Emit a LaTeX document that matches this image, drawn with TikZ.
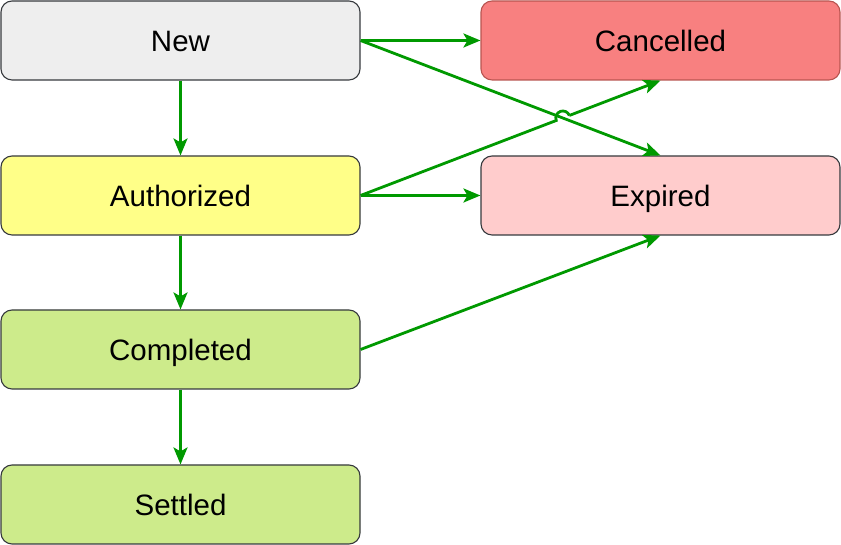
\documentclass[tikz,border=0pt]{standalone}
\usepackage{fontspec}
\setmainfont{Liberation Sans}
\usetikzlibrary{arrows.meta,calc}
\definecolor{edgegreen}{HTML}{009900}
\definecolor{bordergray}{HTML}{36393D}
\definecolor{newfill}{HTML}{EEEEEE}
\definecolor{cancelfill}{HTML}{F88080}
\definecolor{cancelborder}{HTML}{B85450}
\definecolor{authfill}{HTML}{FFFF88}
\definecolor{expfill}{HTML}{FFCCCC}
\definecolor{donefill}{HTML}{CDEB8B}
\tikzset{
  state/.style={draw=bordergray, line width=1.1pt, rounded corners=11pt,
    minimum width=359pt, minimum height=79pt, inner sep=0pt,
    text height=21.1pt, text depth=0pt,
    font=\fontsize{29.5}{34}\selectfont},
  flow/.style={draw=edgegreen, line width=2.8pt,
    -{Stealth[length=17pt,width=14pt,inset=4pt]}},
  flownotip/.style={draw=edgegreen, line width=2.8pt}
}
\begin{document}
\begin{tikzpicture}[x=1pt,y=1pt]
\useasboundingbox (0,0) rectangle (841,545);
\node[state, fill=newfill] (new) at (180.5,504.5) {New};
\node[state, fill=cancelfill, draw=cancelborder] (cancel) at (660.5,504.5) {Cancelled};
\node[state, fill=authfill] (auth) at (180.5,349.5) {Authorized};
\node[state, fill=expfill] (exp) at (660.5,349.5) {Expired};
\node[state, fill=donefill] (done) at (180.5,195.5) {Completed};
\node[state, fill=donefill] (settled) at (180.5,40.5) {Settled};

\draw[flow] (new.east) -- (cancel.west);
\draw[flow] (new.east) -- (exp.north);
\draw[flow] (new.south) -- (auth.north);
\draw[flow] (auth.east) -- (exp.west);
\draw[flow] (auth.south) -- (done.north);
\draw[flow] (done.east) -- (exp.south);
\draw[flow] (done.south) -- (settled.north);

\coordinate (x) at (intersection of new.east--exp.north and auth.east--cancel.south);
\coordinate (p1) at ($(x)!7pt!(auth.east)$);
\coordinate (p2) at ($(x)!7pt!(cancel.south)$);
\draw[flownotip] (auth.east) -- (p1) arc[start angle=201.06, end angle=21.06, radius=7pt];
\draw[flow] (p2) -- (cancel.south);
\end{tikzpicture}
\end{document}
